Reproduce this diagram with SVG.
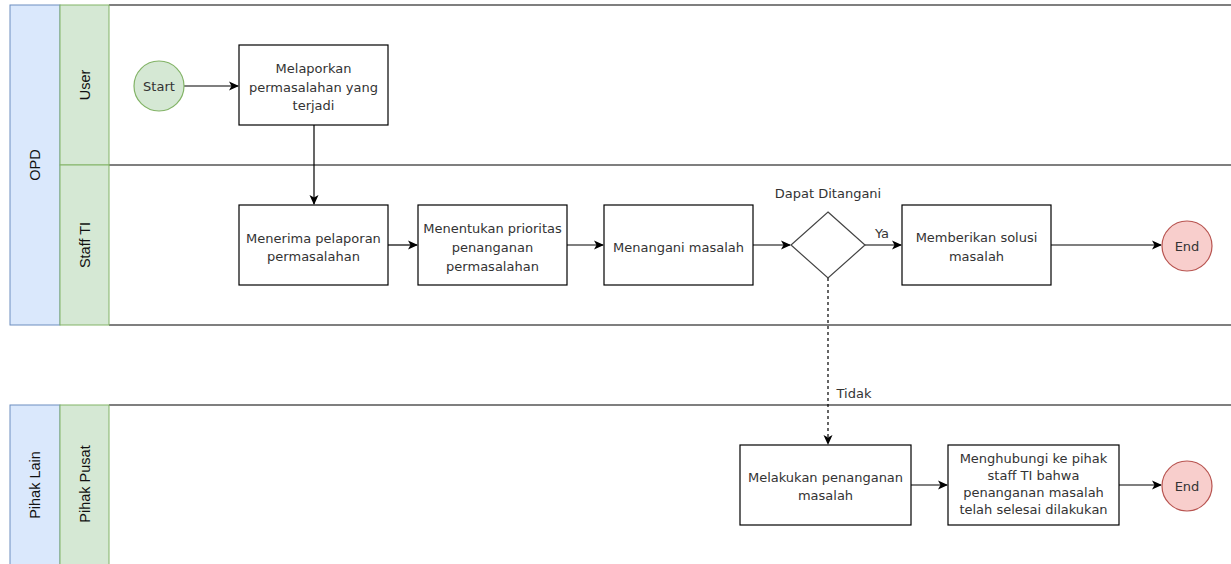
<svg xmlns="http://www.w3.org/2000/svg" width="1231" height="564" viewBox="0 0 1231 564">
  <style>
    .pool { fill: #dae8fc; stroke: #6c8ebf; stroke-width: 1; }
    .lane { fill: #d5e8d4; stroke: #82b366; stroke-width: 1; }
    .sep { stroke: #000; stroke-width: 1.2; fill: none; }
    .box { fill: #fff; stroke: #000; stroke-width: 1.2; }
    .start { fill: #d5e8d4; stroke: #82b366; stroke-width: 1.2; }
    .end { fill: #f8cecc; stroke: #b85450; stroke-width: 1.2; }
    .txt { font-family: "DejaVu Sans", Verdana, sans-serif; font-size: 13px; fill: #333; text-anchor: middle; dominant-baseline: central; }
    .lbl { font-family: "Liberation Sans", Arial, sans-serif; font-size: 14.5px; fill: #111; text-anchor: middle; dominant-baseline: central; }
    .edge { stroke: #000; stroke-width: 1.2; fill: none; marker-end: url(#arrow); }
    .dash { stroke-dasharray: 3 3; }
  </style>
  <defs>
    <marker id="arrow" viewBox="0 0 10 10" refX="9" refY="5" markerWidth="10" markerHeight="10" markerUnits="userSpaceOnUse" orient="auto">
      <path d="M0,0.5 L10,5 L0,9.5 L2.5,5 Z" fill="#000"/>
    </marker>
  </defs>

  <rect width="1231" height="564" fill="#fff"/>

  <!-- Pool OPD -->
  <g id="pool-opd">
    <rect class="pool" x="10" y="5" width="50" height="320"/>
    <text class="lbl" transform="translate(35,165) rotate(-90)">OPD</text>
    <line class="sep" x1="109" y1="5" x2="1231" y2="5"/>
    <line class="sep" x1="109" y1="165" x2="1231" y2="165"/>
    <line class="sep" x1="109" y1="325" x2="1231" y2="325"/>
  </g>
  <g id="lane-user">
    <rect class="lane" x="60" y="5" width="49" height="160"/>
    <text class="lbl" transform="translate(85,85) rotate(-90)">User</text>
  </g>
  <g id="lane-staff">
    <rect class="lane" x="60" y="165" width="49" height="160"/>
    <text class="lbl" transform="translate(85,245) rotate(-90)">Staff TI</text>
  </g>

  <!-- Pool Pihak Lain -->
  <g id="pool-pihak-lain">
    <rect class="pool" x="10" y="405" width="50" height="170"/>
    <text class="lbl" transform="translate(35,485) rotate(-90)">Pihak Lain</text>
    <line class="sep" x1="109" y1="405" x2="1231" y2="405"/>
  </g>
  <g id="lane-pusat">
    <rect class="lane" x="60" y="405" width="49" height="170"/>
    <text class="lbl" transform="translate(85,484) rotate(-90)">Pihak Pusat</text>
  </g>

  <!-- Connectors -->
  <g id="connectors">
    <line class="edge" x1="184" y1="86" x2="238" y2="86"/>
    <line class="edge" x1="314" y1="125" x2="314" y2="204"/>
    <line class="edge" x1="388" y1="245" x2="417" y2="245"/>
    <line class="edge" x1="567" y1="245" x2="603" y2="245"/>
    <line class="edge" x1="753" y1="245" x2="790" y2="245"/>
    <line class="edge" x1="865" y1="245" x2="901" y2="245"/>
    <line class="edge" x1="1051" y1="245" x2="1161" y2="245"/>
    <line class="edge dash" x1="828" y1="278" x2="828" y2="444"/>
    <line class="edge" x1="911" y1="485" x2="947" y2="485"/>
    <line class="edge" x1="1119" y1="485" x2="1161" y2="485"/>
    <text class="txt" x="882" y="233">Ya</text>
    <text class="txt" x="854" y="393">Tidak</text>
  </g>

  <!-- Nodes -->
  <g id="start">
    <circle class="start" cx="159" cy="86" r="25"/>
    <text class="txt" x="159" y="86">Start</text>
  </g>
  <g id="melaporkan">
    <rect class="box" x="239" y="45" width="149" height="80"/>
    <text class="txt" x="313.5" y="68">Melaporkan</text>
    <text class="txt" x="313.5" y="87">permasalahan yang</text>
    <text class="txt" x="313.5" y="105">terjadi</text>
  </g>
  <g id="menerima">
    <rect class="box" x="239" y="205" width="149" height="80"/>
    <text class="txt" x="313.5" y="238">Menerima pelaporan</text>
    <text class="txt" x="313.5" y="256">permasalahan</text>
  </g>
  <g id="menentukan">
    <rect class="box" x="418" y="205" width="149" height="80"/>
    <text class="txt" x="492.5" y="228">Menentukan prioritas</text>
    <text class="txt" x="492.5" y="247">penanganan</text>
    <text class="txt" x="492.5" y="266">permasalahan</text>
  </g>
  <g id="menangani">
    <rect class="box" x="604" y="205" width="149" height="80"/>
    <text class="txt" x="678.5" y="247">Menangani masalah</text>
  </g>
  <g id="decision">
    <polygon class="box" points="828,212 865,245 828,278 791,245" style="stroke:#444"/>
    <text class="txt" x="828" y="193">Dapat Ditangani</text>
  </g>
  <g id="memberikan">
    <rect class="box" x="902" y="205" width="149" height="80"/>
    <text class="txt" x="976.5" y="237">Memberikan solusi</text>
    <text class="txt" x="976.5" y="256">masalah</text>
  </g>
  <g id="end-1">
    <circle class="end" cx="1187" cy="246" r="25"/>
    <text class="txt" x="1187" y="246">End</text>
  </g>
  <g id="melakukan">
    <rect class="box" x="740" y="445" width="171" height="80"/>
    <text class="txt" x="825.5" y="477">Melakukan penanganan</text>
    <text class="txt" x="825.5" y="495">masalah</text>
  </g>
  <g id="menghubungi">
    <rect class="box" x="948" y="445" width="171" height="80"/>
    <text class="txt" x="1033.5" y="458">Menghubungi ke pihak</text>
    <text class="txt" x="1033.5" y="475">staff TI bahwa</text>
    <text class="txt" x="1033.5" y="492">penanganan masalah</text>
    <text class="txt" x="1033.5" y="509">telah selesai dilakukan</text>
  </g>
  <g id="end-2">
    <circle class="end" cx="1187" cy="486" r="25"/>
    <text class="txt" x="1187" y="486">End</text>
  </g>
</svg>
